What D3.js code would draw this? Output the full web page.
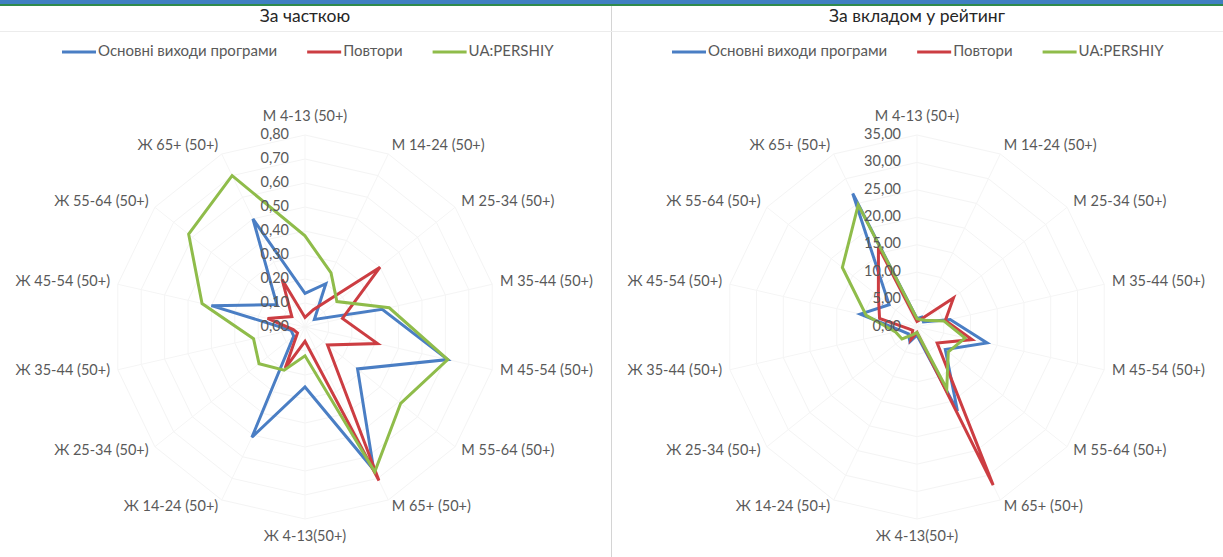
<!DOCTYPE html>
<html><head><meta charset="utf-8">
<script src="https://cdn.jsdelivr.net/npm/d3@7/dist/d3.min.js"></script>
<style>
html,body{margin:0;padding:0;background:#fff;}
svg{display:block;font-family:Lato,"Noto Sans",sans-serif;}
</style></head><body>
<svg id="chart" width="1223" height="557"></svg>
<script>
// ---- data ----
const categories = ["М 4-13 (50+)","М 14-24 (50+)","М 25-34 (50+)","М 35-44 (50+)","М 45-54 (50+)","М 55-64 (50+)","М 65+ (50+)","Ж 4-13(50+)","Ж 14-24 (50+)","Ж 25-34 (50+)","Ж 35-44 (50+)","Ж 45-54 (50+)","Ж 55-64 (50+)","Ж 65+ (50+)"];
const seriesNames = ["Основні виходи програми","Повтори","UA:PERSHIY"];
const seriesColors = ["#4a7ec4","#cc3d42","#8fbc4a"];
const titles = ["За часткою","За вкладом у рейтинг"];

// panel 1: share
const shareMain   = [0.14,0.20,0.05,0.33,0.61,0.28,0.66,0.25,0.51,0.06,0.06,0.40,0.15,0.50];
const shareRepeat = [0.04,0.08,0.40,0.16,0.31,0.12,0.71,0.06,0.19,0.04,0.05,0.16,0.07,0.22];
const shareChan   = [0.38,0.25,0.17,0.36,0.61,0.51,0.67,0.12,0.20,0.245,0.22,0.44,0.62,0.70];
const shareTicks  = [0,0.1,0.2,0.3,0.4,0.5,0.6,0.7,0.8];

// panel 2: contribution to rating
const contribMain   = [1.5,2.0,1.5,6.2,13.1,6.6,17.0,1.5,3.0,2.0,3.0,10.6,6.5,27.0];
const contribRepeat = [1.0,1.5,8.5,5.3,10.3,4.7,32.0,1.0,2.5,1.0,1.5,7.0,9.0,16.2];
const contribChan   = [1.5,1.5,2.0,5.0,9.0,7.3,12.5,1.0,1.5,3.5,4.0,9.5,17.4,24.7];
const contribTicks  = [0,5,10,15,20,25,30,35];

const svg = d3.select("#chart");
const fmt = v => d3.format(".2f")(v).replace(".", ",");

// top decoration
svg.append("rect").attr("x",0).attr("y",0).attr("width",1223).attr("height",4).attr("fill","#3f7fc2");
svg.append("rect").attr("x",0).attr("y",4).attr("width",1223).attr("height",2).attr("fill","#2f8a4c");
svg.append("line").attr("x1",611.5).attr("x2",611.5).attr("y1",6).attr("y2",557).attr("stroke","#d4d4d4");
svg.append("line").attr("x1",0).attr("x2",1223).attr("y1",31.5).attr("y2",31.5).attr("stroke","#ececec");

function panel(cx, cy, title, seriesData, ticks, legendX) {
  const g = svg.append("g");
  const R = 192;
  const n = categories.length;
  const r = d3.scaleLinear().domain([0, ticks[ticks.length-1]]).range([0, R]);
  const ang = d3.scaleLinear().domain([0, n]).range([0, 2*Math.PI]);

  g.append("text").attr("x", cx).attr("y", 18).attr("text-anchor","middle")
    .attr("dominant-baseline","middle").attr("font-size",17.5).attr("fill","#262626").text(title);

  // legend
  const lg = g.append("g").attr("transform", `translate(${legendX},52)`);
  let x = 0;
  seriesNames.forEach((name,i) => {
    lg.append("line").attr("x1",x).attr("x2",x+34).attr("y1",0).attr("y2",0)
      .attr("stroke",seriesColors[i]).attr("stroke-width",3);
    const t = lg.append("text").attr("x",x+36).attr("y",0).attr("dominant-baseline","middle")
      .attr("font-size",15).attr("fill","#595959").text(name);
    x += 36 + t.node().getComputedTextLength() + 30;
  });

  // gridlines (polygons)
  const radial = d3.lineRadial().angle((d,i)=>ang(i)).radius(d=>r(d)).curve(d3.curveLinearClosed);
  ticks.slice(1).forEach(t => {
    g.append("path").attr("transform",`translate(${cx},${cy})`)
      .attr("d", radial(categories.map(()=>t))).attr("fill","none").attr("stroke","#f4f4f4");
  });
  categories.forEach((c,i) => {
    const a = ang(i);
    g.append("line").attr("x1",cx).attr("y1",cy)
      .attr("x2",cx+R*Math.sin(a)).attr("y2",cy-R*Math.cos(a)).attr("stroke","#f5f5f5");
  });

  // series
  seriesData.forEach((vals,si) => {
    g.append("path").attr("transform",`translate(${cx},${cy})`)
      .attr("d", radial(vals)).attr("fill","none").attr("stroke",seriesColors[si])
      .attr("stroke-width",3).attr("stroke-linejoin","miter");
  });

  // tick labels
  ticks.forEach(t => {
    g.append("text").attr("x",cx-16).attr("y",cy-r(t)).attr("text-anchor","end")
      .attr("dominant-baseline","middle").attr("font-size",14.5).attr("fill","#595959").text(fmt(t));
  });

  // category labels
  categories.forEach((c,i) => {
    const a = ang(i), s = Math.sin(a), co = Math.cos(a);
    const LR = R + 8;
    let lx = cx + LR*s, ly = cy - LR*co;
    let anchor = "middle";
    if (s > 0.1) anchor = "start"; else if (s < -0.1) anchor = "end";
    if (Math.abs(s) < 0.1) ly -= 10*co;
    g.append("text").attr("x",lx).attr("y",ly).attr("text-anchor",anchor)
      .attr("dominant-baseline","middle").attr("font-size",14.5).attr("fill","#595959").text(c);
  });
}

panel(305, 327, titles[0], [shareMain, shareRepeat, shareChan], shareTicks, 62);
panel(917, 327, titles[1], [contribMain, contribRepeat, contribChan], contribTicks, 672);
</script>
</body></html>
